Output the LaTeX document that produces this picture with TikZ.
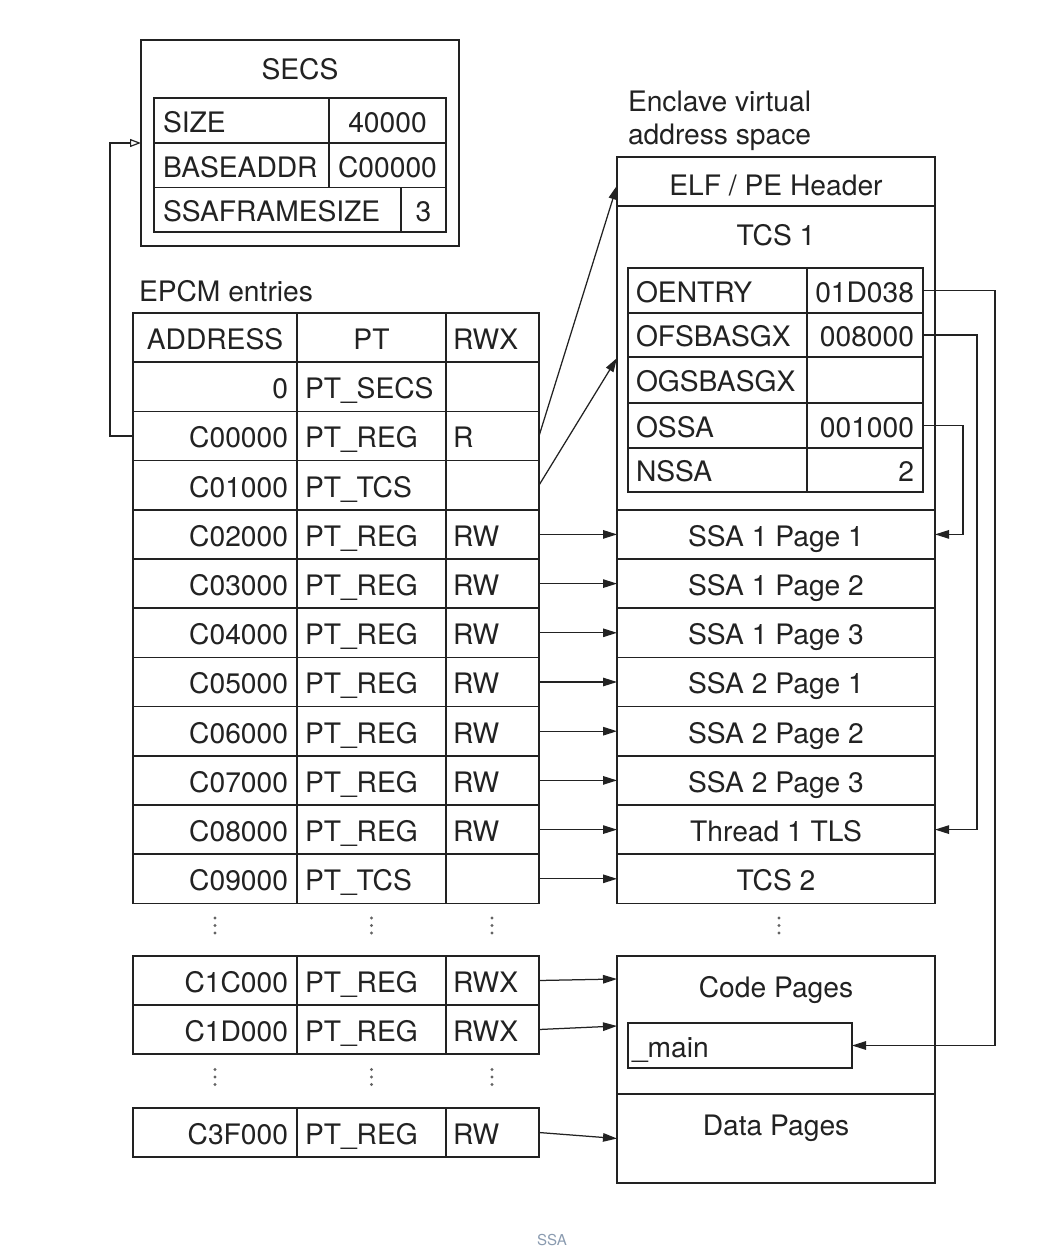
\documentclass[tikz,border=0pt]{standalone}
\usepackage{fontspec}
\setmainfont{TeX Gyre Heros}
\usetikzlibrary{arrows.meta,fit}
\definecolor{ln}{HTML}{222222}
\definecolor{capc}{HTML}{8A9BB0}
\begin{document}
\begin{tikzpicture}[x=1pt,y=-1pt,
  cell/.style={draw=ln, line width=1.5pt, inner sep=0pt, outer sep=0pt},
  txt/.style={inner sep=0pt, outer sep=0pt, text=ln, font=\fontsize{28.2}{33}\selectfont, text height=23.8pt, text depth=0pt},
  conn/.style={draw=ln, line width=1.25pt, -{Triangle[length=14pt,width=8.5pt]}},
  openconn/.style={draw=ln, line width=1.25pt, -{Triangle[open,length=11pt,width=8pt,line width=1.2pt]}},
  dotm/.style={circle, fill=ln!70, inner sep=0pt, minimum size=3.2pt}
]
\fill[white] (0,0) rectangle (1064,1260);
\useasboundingbox (0,0) rectangle (1064,1260);

% ---------------- SECS ----------------
\node[cell, fit={(141,40) (459,246)}] (secs) {};
\node[txt] (secst) at (300,68) {SECS};
\node[cell, fit={(154,98) (329,143)}] (s1k) {};
\node[cell, fit={(329,98) (446,143)}] (s1v) {};
\node[cell, fit={(154,143) (329,187.5)}] (s2k) {};
\node[cell, fit={(329,143) (446,187.5)}] (s2v) {};
\node[cell, fit={(154,187.5) (401,232)}] (s3k) {};
\node[cell, fit={(401,187.5) (446,232)}] (s3v) {};
\node[txt, anchor=west] (s1kt) at ([xshift=9pt]s1k.west) {SIZE};
\node[txt] (s1vt) at (s1v.center) {40000};
\node[txt, anchor=west] (s2kt) at ([xshift=9pt]s2k.west) {BASEADDR};
\node[txt] (s2vt) at (s2v.center) {C00000};
\node[txt, anchor=west] (s3kt) at ([xshift=9pt]s3k.west) {SSAFRAMESIZE};
\node[txt] (s3vt) at (s3v.center) {3};

% ---------------- EPCM ----------------
\node[txt, anchor=west] (epcm) at (139,290) {EPCM entries};
\node[cell, fit={(133,313) (297,362.2)}] (a0) {};
\node[cell, fit={(297,313) (446,362.2)}] (p0) {};
\node[cell, fit={(446,313) (539,362.2)}] (w0) {};
\node[txt] (a0t) at (a0.center) {ADDRESS};
\node[txt] (p0t) at (p0.center) {PT};
\node[txt, anchor=west] (w0t) at ([xshift=7pt]w0.west) {RWX};

\foreach \k/\ad/\pt/\rw in {1/0/PT\_SECS/{},2/C00000/PT\_REG/R,3/C01000/PT\_TCS/{},
  4/C02000/PT\_REG/RW,5/C03000/PT\_REG/RW,6/C04000/PT\_REG/RW,7/C05000/PT\_REG/RW,
  8/C06000/PT\_REG/RW,9/C07000/PT\_REG/RW,10/C08000/PT\_REG/RW,11/C09000/PT\_TCS/{}}{
  \pgfmathsetmacro\yt{313+49.2*\k}
  \pgfmathsetmacro\yb{313+49.2*(\k+1)}
  \node[cell, fit={(133,\yt) (297,\yb)}] (a\k) {};
  \node[cell, fit={(297,\yt) (446,\yb)}] (p\k) {};
  \node[cell, fit={(446,\yt) (539,\yb)}] (w\k) {};
  \node[txt, anchor=east] (a\k t) at ([xshift=-9pt]a\k.east) {\ad};
  \node[txt, anchor=west] (p\k t) at ([xshift=8pt]p\k.west) {\pt};
  \node[txt, anchor=west] (w\k t) at ([xshift=7pt]w\k.west) {\rw};
}

\foreach \k/\yt/\yb/\ad/\rw in {12/956/1005/C1C000/RWX,13/1005/1054/C1D000/RWX,14/1108/1157/C3F000/RW}{
  \node[cell, fit={(133,\yt) (297,\yb)}] (a\k) {};
  \node[cell, fit={(297,\yt) (446,\yb)}] (p\k) {};
  \node[cell, fit={(446,\yt) (539,\yb)}] (w\k) {};
  \node[txt, anchor=east] (a\k t) at ([xshift=-9pt]a\k.east) {\ad};
  \node[txt, anchor=west] (p\k t) at ([xshift=8pt]p\k.west) {PT\_REG};
  \node[txt, anchor=west] (w\k t) at ([xshift=7pt]w\k.west) {\rw};
}

% vertical dots
\foreach \x in {215,371.5,492}{
  \foreach \y in {918,925.5,933,1069.5,1077,1084.5}{
    \node[dotm] at (\x,\y) {};
  }
}
\foreach \y in {918,925.5,933}{ \node[dotm] at (779,\y) {}; }

% ---------------- Enclave address space ----------------
\node[txt, anchor=west] (enc1) at (628,100) {Enclave virtual};
\node[txt, anchor=west] (enc2) at (628,133) {address space};
\node[cell, fit={(617,157) (935,206)}] (elf) {};
\node[txt] (elft) at (776,184) {ELF / PE Header};
\node[cell, fit={(617,206) (935,510)}] (tcs1) {};
\node[txt] (tcs1t) at (776,234) {TCS 1};

\foreach \i/\yt/\yb/\nm/\vl in {1/268/313/OENTRY/01D038,2/313/357/OFSBASGX/008000,
  3/357/403/OGSBASGX/{},4/403/448/OSSA/001000,5/448/492/NSSA/2}{
  \node[cell, fit={(628,\yt) (807,\yb)}] (t\i k) {};
  \node[cell, fit={(807,\yt) (923,\yb)}] (t\i v) {};
  \node[txt, anchor=west] (t\i kt) at ([xshift=8pt]t\i k.west) {\nm};
  \node[txt, anchor=east] (t\i vt) at ([xshift=-9pt]t\i v.east) {\vl};
}

\foreach \k/\lab in {4/SSA 1 Page 1,5/SSA 1 Page 2,6/SSA 1 Page 3,7/SSA 2 Page 1,
  8/SSA 2 Page 2,9/SSA 2 Page 3,10/Thread 1 TLS,11/TCS 2}{
  \pgfmathsetmacro\yt{313+49.2*\k}
  \pgfmathsetmacro\yb{313+49.2*(\k+1)}
  \node[cell, fit={(617,\yt) (935,\yb)}] (v\k) {};
  \node[txt] (v\k t) at (v\k.center) {\lab};
}

\node[cell, fit={(617,956) (935,1094)}] (code) {};
\node[txt] (codet) at (776,986) {Code Pages};
\node[cell, fit={(628,1023) (852,1068)}] (main) {};
\node[txt, anchor=west] (maint) at ([xshift=4pt]main.west) {\_main};
\node[cell, fit={(617,1094) (935,1183)}] (data) {};
\node[txt] (datat) at (776,1124) {Data Pages};

% ---------------- connectors ----------------
\draw[openconn] (a2.west) -- ++(-23,0) |- (secs.west);
\draw[conn] (w2.east) -- ([yshift=-4pt]elf.west);
\draw[conn] (w3.east) -- (tcs1.west);
\foreach \k in {4,...,11}{ \draw[conn] (w\k.east) -- (v\k.west); }
\draw[conn] (w12.east) -- ([yshift=-23pt]code.north west);
\draw[conn] (w13.east) -- ([yshift=-70pt]code.north west);
\draw[conn] (w14.east) -- (data.west);
\draw[conn] (t1v.east) -- ++(72,0) |- (main.east);
\draw[conn] (t2v.east) -- ++(54,0) |- (v10.east);
\draw[conn] (t4v.east) -- ++(40,0) |- (v4.east);

% caption
\node[inner sep=0pt, text=capc, font=\fontsize{15}{18}\selectfont] (caption) at (552,1240) {SSA};
\end{tikzpicture}
\end{document}
